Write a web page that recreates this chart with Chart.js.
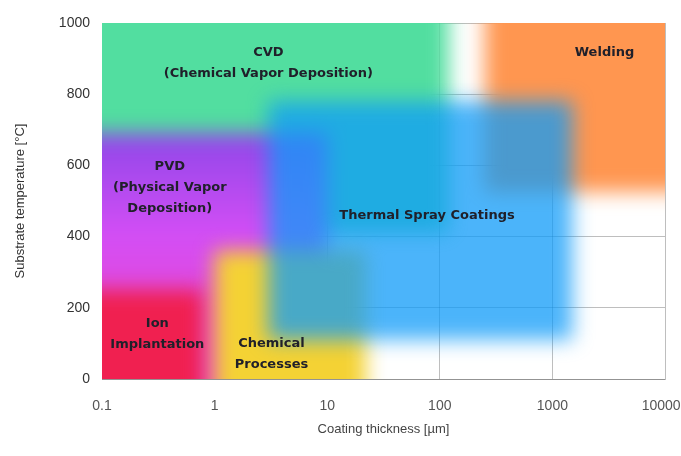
<!DOCTYPE html>
<html>
<head>
<meta charset="utf-8">
<title>Coating processes</title>
<script src="https://cdn.jsdelivr.net/npm/chart.js@4.4.1/dist/chart.umd.min.js"></script>
<style>
    html, body { margin: 0; padding: 0; background: #fff; }
    #chart { display: block; }
</style>
</head>
<body>
<canvas id="chart" width="681" height="456"></canvas>
<script>
// regions, drawn from the bottom layer to the top one
const regionNames = ['CVD', 'Welding', 'PVD', 'Ion Implantation', 'Chemical Processes', 'Thermal Spray Coatings'];
const thicknessFrom = [0.1, 250, 0.1, 0.1, 1, 3];
const thicknessTo = [120, 10000, 10, 0.8, 22, 1500];
const tempFrom = [410, 525, 0, 0, 0, 110];
const tempTo = [1000, 1000, 690, 250, 360, 780];

// labels inside the regions
const labelLines = [
    ['CVD', '(Chemical Vapor Deposition)'],
    ['Welding'],
    ['PVD', '(Physical Vapor', 'Deposition)'],
    ['Ion', 'Implantation'],
    ['Chemical', 'Processes'],
    ['Thermal Spray Coatings']
];
const labelThickness = [3, 2900, 0.4, 0.31, 3.2, 77];
const labelTemp = [887, 916, 537, 126, 70, 458];

const xTicks = [0.1, 1, 10, 100, 1000, 10000];
// trailing spaces keep the last label inside the canvas
const xTickLabels = ['0.1', '1', '10', '100', '1000', '10000  '];
const yTicks = [0, 200, 400, 600, 800, 1000];
const yTickLabels = ['0', '200', '400', '600', '800', '1000'];

const X_MIN = 0.1, X_MAX = 10000, Y_MIN = 0, Y_MAX = 1000;
const LINE_HEIGHT = 21;
const GRID_COLOR = 'rgba(70, 70, 70, 0.35)';
const FONT = '"Liberation Sans", Arial, sans-serif';

const regionColors = [
    'rgb(82, 222, 160)',
    'rgb(255, 150, 80)',
    pvdGradient,
    'rgb(240, 32, 80)',
    'rgb(244, 210, 52)',
    'rgba(15, 155, 248, 0.75)'
];

function pvdGradient(context)
{
    var chart = context.chart,
        y = chart.scales.y;

    if (!y || !chart.chartArea) {
        return 'rgb(175, 72, 238)';
    }
    var g = chart.ctx.createLinearGradient(0, y.getPixelForValue(700), 0, y.getPixelForValue(200));
    g.addColorStop(0, 'rgb(140, 70, 232)');
    g.addColorStop(0.6, 'rgb(212, 78, 245)');
    g.addColorStop(1, 'rgb(226, 72, 215)');
    return g;
}

/**
 * corners of a region; edges lying on the axis limits are pushed outward
 * so the blur does not fade them at the plot border
 * @param {number} i
 */
function rectangle(i)
{
    var x0 = thicknessFrom[i] <= X_MIN ? X_MIN / 10 : thicknessFrom[i],
        x1 = thicknessTo[i] >= X_MAX ? X_MAX * 10 : thicknessTo[i],
        y0 = tempFrom[i] <= Y_MIN ? Y_MIN - 200 : tempFrom[i],
        y1 = tempTo[i] >= Y_MAX ? Y_MAX + 200 : tempTo[i];

    return [{x: x0, y: y0}, {x: x1, y: y0}, {x: x1, y: y1}, {x: x0, y: y1}];
}

const blurPlugin = {
    id: 'blurRegions',
    beforeDatasetsDraw: function (chart) {
        chart.ctx.save();
        chart.ctx.filter = 'blur(10px)';
    },
    afterDatasetsDraw: function (chart) {
        chart.ctx.restore();
    }
};

const labelPlugin = {
    id: 'regionLabels',
    afterDraw: function (chart) {
        var ctx = chart.ctx,
            x = chart.scales.x,
            y = chart.scales.y;

        ctx.save();
        ctx.font = 'bold 13px "DejaVu Sans", sans-serif';
        ctx.fillStyle = '#20202a';
        ctx.textAlign = 'center';
        ctx.textBaseline = 'middle';
        labelLines.forEach(function (lines, i) {
            var cx = x.getPixelForValue(labelThickness[i]),
                cy = y.getPixelForValue(labelTemp[i]) - (lines.length - 1) * LINE_HEIGHT / 2;
            lines.forEach(function (text, j) {
                ctx.fillText(text, cx, cy + j * LINE_HEIGHT);
            });
        });
        ctx.restore();
    }
};

var datasets = regionNames.map(function (name, i) {
    return {
        label: name,
        data: rectangle(i),
        backgroundColor: regionColors[i],
        borderWidth: 0,
        pointRadius: 0,
        pointHitRadius: 0,
        fill: 'shape',
        // lower order is drawn on top
        order: regionNames.length - i
    };
});

new Chart(document.getElementById('chart'), {
    type: 'line',
    data: { datasets: datasets },
    plugins: [blurPlugin, labelPlugin],
    options: {
        responsive: false,
        animation: false,
        layout: { padding: { top: 23, right: 16, left: 0, bottom: 0 } },
        plugins: {
            legend: { display: false },
            tooltip: { enabled: false }
        },
        scales: {
            x: {
                type: 'logarithmic',
                min: X_MIN,
                max: X_MAX,
                z: 1,
                afterBuildTicks: function (scale) {
                    scale.ticks = xTicks.map(function (v) { return {value: v}; });
                },
                afterFit: function (scale) {
                    scale.height = 77;
                    scale.paddingLeft = 0;
                    scale.paddingRight = 0;
                },
                grid: { color: GRID_COLOR, drawTicks: false },
                border: { color: GRID_COLOR },
                ticks: {
                    autoSkip: false,
                    maxRotation: 0,
                    padding: 19,
                    color: '#555',
                    font: { family: FONT, size: 14 },
                    callback: function (value, index) { return xTickLabels[index]; }
                },
                title: {
                    display: true,
                    text: 'Coating thickness [µm]',
                    color: '#444',
                    font: { family: FONT, size: 13 },
                    padding: { top: 0, bottom: 19 }
                }
            },
            y: {
                type: 'linear',
                min: Y_MIN,
                max: Y_MAX,
                z: 1,
                afterBuildTicks: function (scale) {
                    scale.ticks = yTicks.map(function (v) { return {value: v}; });
                },
                afterFit: function (scale) {
                    scale.width = 102;
                    scale.paddingTop = 0;
                    scale.paddingBottom = 0;
                },
                grid: { color: GRID_COLOR, drawTicks: false },
                border: { color: GRID_COLOR },
                ticks: {
                    padding: 12,
                    color: '#333',
                    font: { family: FONT, size: 14 },
                    callback: function (value, index) { return yTickLabels[index]; }
                },
                title: {
                    display: true,
                    text: 'Substrate temperature [°C]',
                    color: '#333',
                    font: { family: FONT, size: 13 },
                    padding: { top: 13, bottom: 0 }
                }
            }
        }
    }
});
</script>
</body>
</html>
